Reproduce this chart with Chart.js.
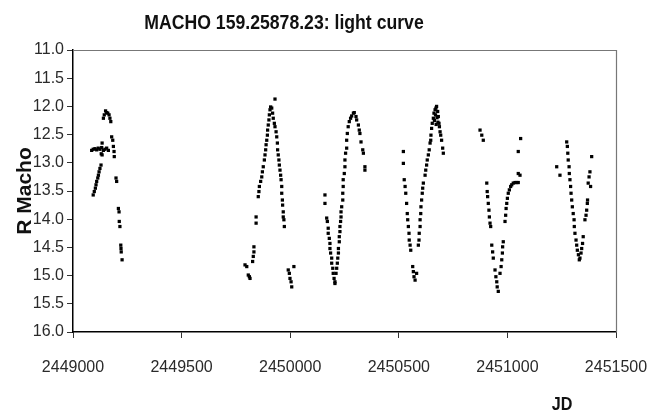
<!DOCTYPE html>
<html>
<head>
<meta charset="utf-8">
<script src="https://cdn.jsdelivr.net/npm/chart.js@4.4.1/dist/chart.umd.min.js"></script>
<style>
  html, body { margin: 0; padding: 0; background: #fff; }
  #wrap { width: 648px; height: 414px; position: relative; }
</style>
</head>
<body>
<div id="wrap"><canvas id="lc"></canvas></div>
<script>
/* MACHO 159.25878.23 – curva de luz */
const titleText = 'MACHO 159.25878.23: light curve';
const xLabel = 'JD';
const yLabel = 'R Macho';
const xTicks = [2449000, 2449500, 2450000, 2450500, 2451000, 2451500];
const yTicks = [11.0, 11.5, 12.0, 12.5, 13.0, 13.5, 14.0, 14.5, 15.0, 15.5, 16.0];

// temporada 1
const jd1  = [2449093,2449098,2449103,2449106,2449109,2449114,2449117,2449120,2449124,2449129,
              2449086,2449093,2449101,2449109,2449116,2449124,2449132,2449140,2449147,2449155,2449163,
              2449134,2449134,2449130,
              2449140,2449144,2449150,2449155,2449160,2449166,2449170,2449174,
              2449178,2449183,2449186,2449189,2449190,2449198,2449201,2449209,2449212,2449213,2449216,2449220,2449221,2449222,2449226];
const mag1 = [13.57,13.51,13.45,13.39,13.33,13.27,13.22,13.16,13.10,13.04,
              12.78,12.76,12.75,12.77,12.74,12.76,12.73,12.78,12.76,12.74,12.78,
              12.65,12.86,12.84,
              12.21,12.15,12.08,12.11,12.12,12.15,12.21,12.27,
              12.54,12.60,12.71,12.80,12.89,13.27,13.33,13.81,13.87,14.04,14.13,14.46,14.52,14.58,14.72];

// temporada 2
const jd2  = [2449792,2449800,2449807,2449812,2449815,2449827,2449830,2449833,2449833,2449843,2449843,
              2449853,2449856,2449858,2449864,2449869,2449872,2449876,2449881,2449884,2449887,2449889,2449892,
              2449895,2449896,2449899,2449902,2449904,2449907,2449910,2449930,
              2449915,2449919,2449922,2449927,2449930,2449935,2449938,2449941,2449942,2449945,2449948,2449950,
              2449953,2449956,2449958,2449961,2449961,2449964,2449965,2449968,2449968,2449971,2449973,
              2449991,2449996,2449999,2450004,2450007,2450017];
const mag2 = [14.81,14.84,14.99,15.02,15.05,14.75,14.66,14.58,14.49,13.96,14.07,
              13.60,13.51,13.42,13.33,13.25,13.16,13.07,12.95,12.86,12.77,12.68,12.60,
              12.51,12.42,12.33,12.24,12.15,12.06,12.01,11.87,
              12.03,12.12,12.21,12.30,12.36,12.45,12.54,12.65,12.77,12.86,12.95,13.04,
              13.13,13.22,13.30,13.42,13.54,13.66,13.75,13.87,13.96,14.01,14.13,
              14.90,14.96,15.05,15.11,15.20,14.84];

// temporada 3
const jd3  = [2450160,2450160,2450168,2450171,2450175,2450175,2450180,2450183,2450183,2450186,2450191,2450191,
              2450196,2450198,2450202,2450206,2450206,
              2450211,2450214,2450217,2450219,2450222,2450222,2450226,2450226,2450229,2450229,2450232,2450234,
              2450234,2450237,2450242,2450242,2450244,2450244,2450249,2450252,2450252,2450255,2450260,2450260,
              2450263,2450267,2450272,2450278,2450283,2450291,2450295,
              2450303,2450306,2450314,2450318,2450321,2450326,2450334,2450337,2450344,2450344];
const mag3 = [13.57,13.72,13.98,14.04,14.16,14.25,14.34,14.43,14.52,14.60,14.69,14.78,
              14.87,14.96,15.05,15.11,15.14,
              14.96,14.87,14.78,14.69,14.60,14.52,14.40,14.31,14.22,14.13,14.04,13.96,
              13.87,13.78,13.66,13.54,13.42,13.30,13.19,13.07,12.95,12.83,12.74,12.60,
              12.48,12.36,12.27,12.21,12.17,12.12,12.11,
              12.18,12.24,12.33,12.42,12.48,12.63,12.77,12.83,13.07,13.13];

// temporada 4
const jd4  = [2450521,2450521,2450525,2450529,2450532,2450536,2450539,2450541,2450544,2450547,2450548,2450552,2450555,
              2450564,2450567,2450570,2450575,2450582,
              2450590,2450593,2450594,2450598,2450598,2450601,2450602,2450605,2450608,2450610,2450613,
              2450621,2450624,2450628,2450631,2450636,2450640,2450644,2450647,2450648,2450651,2450654,
              2450659,2450662,2450667,2450671,2450674,2450679,2450682,2450685,2450687,
              2450664,2450669,2450676,2450680,2450672,
              2450690,2450693,2450697,2450702,2450705];
const mag4 = [12.80,13.01,13.30,13.42,13.54,13.72,13.90,14.01,14.13,14.25,14.37,14.46,14.55,
              14.84,14.93,15.02,15.08,14.96,
              14.46,14.37,14.25,14.13,14.01,13.90,13.78,13.66,13.54,13.45,13.36,
              13.22,13.13,13.04,12.95,12.86,12.77,12.65,12.60,12.51,12.39,12.30,
              12.21,12.12,12.06,12.03,12.00,12.09,12.18,12.30,12.36,
              12.25,12.15,12.20,12.28,12.32,
              12.45,12.51,12.60,12.74,12.83];

// temporada 5
const jd5  = [2450874,2450882,2450889,
              2450905,2450907,2450909,2450912,2450915,2450917,2450920,2450923,
              2450928,2450932,2450935,2450943,2450947,2450951,2450953,2450958,
              2450966,2450971,2450974,2450977,2450978,2450981,
              2450989,2450992,2450994,2450997,2451000,2451004,2451009,2451015,2451020,2451027,2451035,2451043,2451050,
              2451050,2451058,2451050,2451061];
const mag5 = [12.42,12.51,12.60,
              13.36,13.51,13.60,13.72,13.84,13.96,14.07,14.13,
              14.46,14.58,14.69,14.90,15.02,15.11,15.20,15.28,
              14.96,14.84,14.72,14.60,14.49,14.40,
              14.04,13.93,13.81,13.72,13.63,13.54,13.48,13.42,13.39,13.36,13.35,13.35,13.35,
              13.19,13.22,12.80,12.57];

// temporada 6
const jd6  = [2451227,2451242,
              2451273,2451276,2451278,2451280,2451284,2451285,2451288,2451291,2451293,2451296,2451299,
              2451303,2451307,2451308,2451311,2451316,2451319,2451322,2451327,2451331,
              2451334,2451339,2451342,2451346,2451349,
              2451357,2451362,2451365,2451368,2451369,
              2451383,2451372,2451376,2451380,2451388];
const mag6 = [13.07,13.22,
              12.63,12.71,12.83,12.95,13.07,13.19,13.30,13.42,13.54,13.66,13.78,
              13.90,14.01,14.13,14.25,14.37,14.46,14.55,14.63,14.72,
              14.69,14.60,14.52,14.43,14.31,
              14.01,13.93,13.84,13.72,13.66,
              13.42,13.36,13.25,13.16,12.89];

const seasons = [[jd1, mag1], [jd2, mag2], [jd3, mag3], [jd4, mag4], [jd5, mag5], [jd6, mag6]];
const points = seasons.flatMap(([j, m]) => j.map((x, i) => ({ x, y: m[i] })));

const sans = "'Liberation Sans', Arial, sans-serif";

/* marco gris arriba/derecha + título y "JD" (letra estrecha simulada) */
function narrowText(ctx, txt, x, y, size, squeeze) {
  ctx.save();
  ctx.translate(x, y);
  ctx.scale(squeeze, 1);
  ctx.font = 'bold ' + size + 'px ' + sans;
  ctx.fillText(txt, 0, 0);
  ctx.restore();
}

const framePlugin = {
  id: 'frame',
  afterDraw(chart) {
    const { ctx, chartArea: a } = chart;
    ctx.save();
    ctx.strokeStyle = '#777';
    ctx.lineWidth = 1.2;
    ctx.beginPath();
    ctx.moveTo(a.left, a.top + 0.5);
    ctx.lineTo(a.right + 0.5, a.top + 0.5);
    ctx.lineTo(a.right + 0.5, a.bottom);
    ctx.stroke();
    ctx.fillStyle = '#111';
    ctx.textAlign = 'center';
    ctx.textBaseline = 'middle';
    narrowText(ctx, titleText, 284, 23, 21, 0.84);
    narrowText(ctx, xLabel, 562, 405, 19, 0.85);
    ctx.restore();
  }
};

new Chart(document.getElementById('lc'), {
  type: 'scatter',
  data: {
    datasets: [{
      data: points,
      pointStyle: 'rect',
      pointRadius: 2.3,
      pointBorderWidth: 0,
      backgroundColor: '#000',
      borderColor: '#000'
    }]
  },
  options: {
    responsive: true,
    maintainAspectRatio: false,
    animation: false,
    layout: { padding: { top: 50, right: 32, left: 0, bottom: 0 } },
    plugins: { legend: { display: false }, tooltip: { enabled: false }, title: { display: false } },
    scales: {
      x: {
        type: 'linear',
        min: xTicks[0], max: xTicks[xTicks.length - 1],
        afterBuildTicks: s => { s.ticks = xTicks.map(v => ({ value: v })); },
        afterFit: s => { s.height = 82; s.paddingLeft = 0; s.paddingRight = 0; },
        grid: { drawOnChartArea: false, tickLength: 6, color: '#333' },
        border: { color: '#000', width: 1.5 },
        ticks: { color: '#2a2a2a', padding: 20, maxRotation: 0, font: { family: sans, size: 16 },
                 callback: v => String(v) }
      },
      y: {
        type: 'linear',
        reverse: true,
        min: yTicks[0], max: yTicks[yTicks.length - 1],
        afterBuildTicks: s => { s.ticks = yTicks.map(v => ({ value: v })); },
        afterFit: s => { s.width = 73; },
        grid: { drawOnChartArea: false, tickLength: 6, color: '#333' },
        border: { color: '#000', width: 1.5 },
        ticks: { color: '#2a2a2a', padding: 3, font: { family: sans, size: 16 },
                 callback: v => v.toFixed(1) },
        title: { display: true, text: yLabel, color: '#111', padding: { top: 13, bottom: 0 },
                 font: { family: sans, size: 21, weight: 'bold' } }
      }
    }
  },
  plugins: [framePlugin]
});
</script>
</body>
</html>
